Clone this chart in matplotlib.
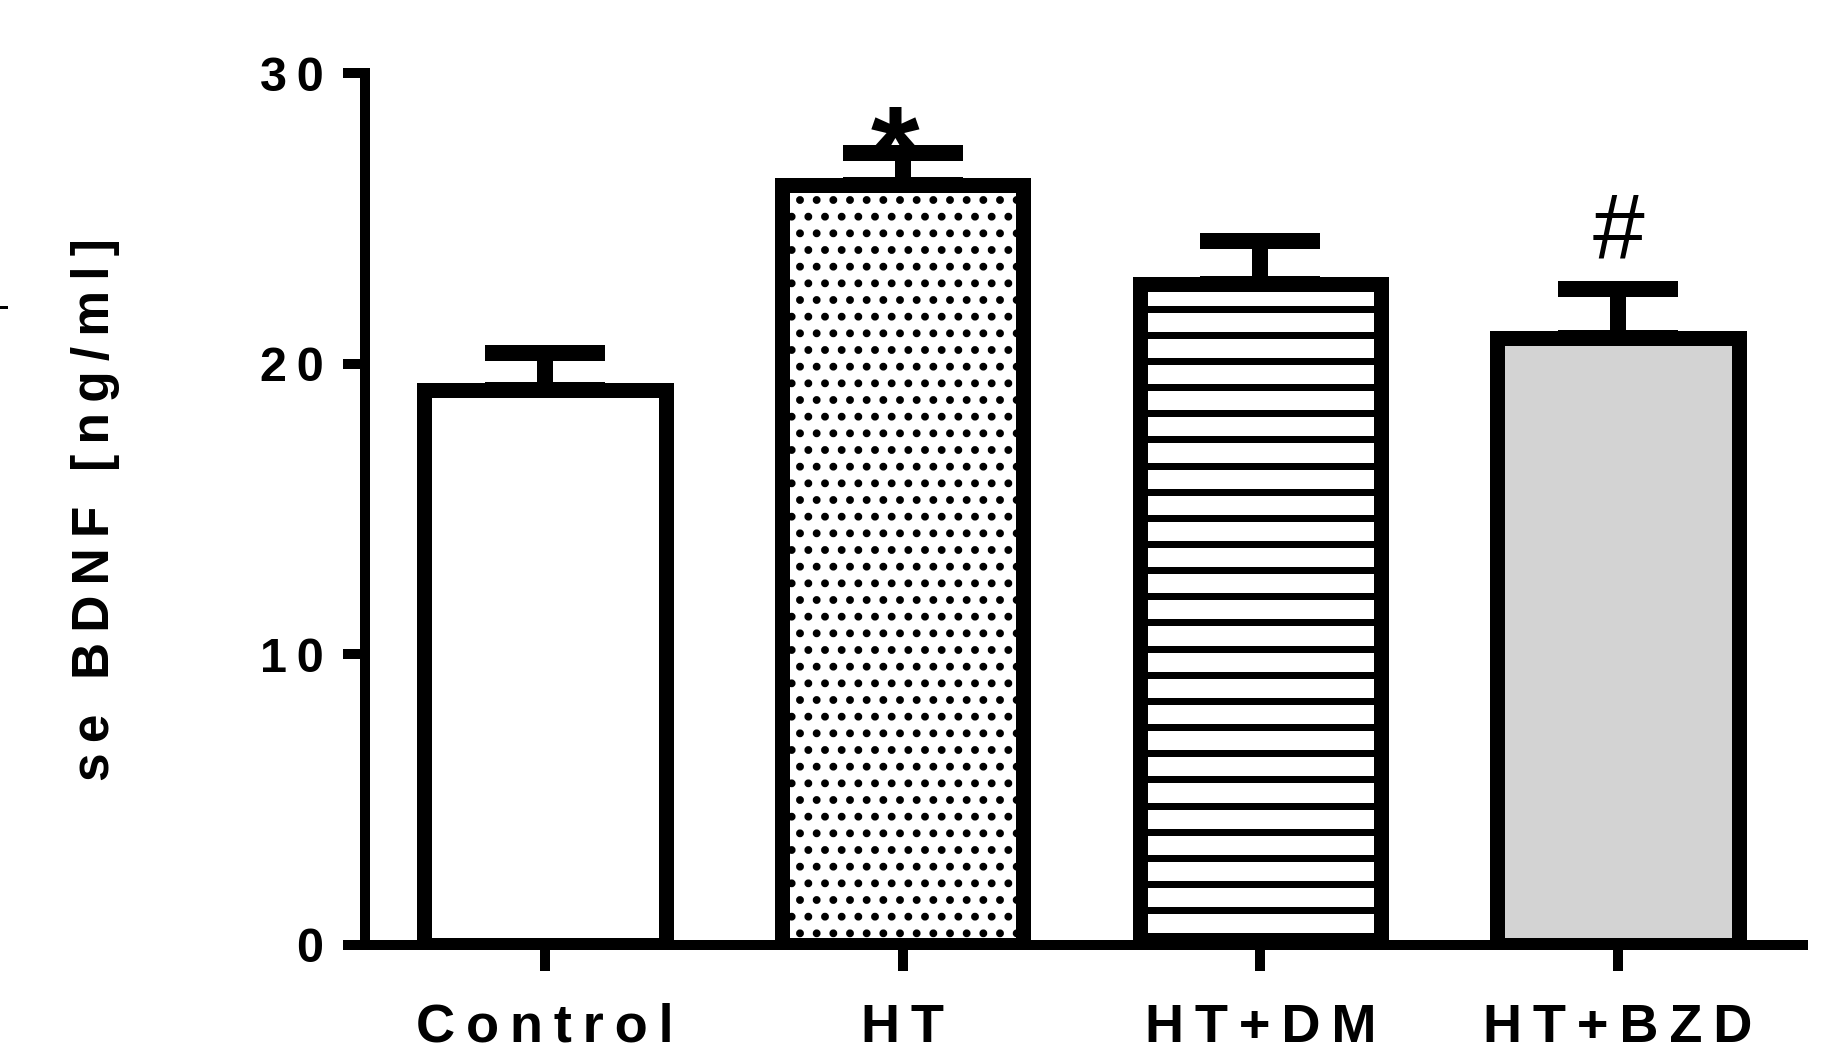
import matplotlib
matplotlib.use("Agg")
import matplotlib.pyplot as plt
from matplotlib.lines import Line2D
import numpy as np

# Serum BDNF per group (mean, upper SEM)
groups = ["Control", "HT", "HT+DM", "HT+BZD"]
means = [19.1, 26.15, 22.75, 20.9]
sems = [1.27, 1.1, 1.47, 1.68]
face_colors = ["white", "white", "white", "#d3d3d3"]
hatches = ["", ".", "", ""]
sig_marks = ["", "*", "", "#"]
y_ticks = [0, 10, 20, 30]

DPI = 100
PX = 72 / DPI  # points per pixel

plt.rcParams["font.family"] = ["Liberation Sans", "DejaVu Sans"]
plt.rcParams["hatch.linewidth"] = 3.2


def spaced(text):
    """Loose letter spacing, as in the exported Prism labels."""
    return "\u2009".join(text)


fig = plt.figure(figsize=(1839 / DPI, 1051 / DPI), dpi=DPI)
ax = fig.add_axes([0.19848, 0.10086, 0.78194, 0.8294])

x = np.arange(len(groups))
bar_w = 0.675

ax.errorbar(x, means, yerr=[np.zeros(len(sems)), sems], fmt="none",
            ecolor="black", elinewidth=16 * PX, capsize=60 * PX,
            capthick=16 * PX, zorder=2)
bars = ax.bar(x, means, width=bar_w, color=face_colors, edgecolor="black",
              linewidth=15 * PX, zorder=3)
for patch, h in zip(bars, hatches):
    if h:
        patch.set_hatch(h)

# horizontal stripe fill for HT+DM
stripe_y = np.arange(0.3, means[2] - 0.3, 0.9)
ax.hlines(stripe_y, x[2] - bar_w / 2, x[2] + bar_w / 2, color="black",
          linewidth=7 * PX, zorder=4)

for xi, m, s, mark in zip(x, means, sems, sig_marks):
    if mark == "*":
        ax.text(xi - 0.02, m + s - 1.35, mark, ha="center", va="baseline",
                fontsize=90, fontweight="bold", zorder=5)
    elif mark == "#":
        ax.text(xi, m + s + 1.05, mark, ha="center", va="baseline",
                fontsize=67, zorder=5)

ax.set_xlim(-0.503, 3.517)
ax.set_ylim(0, 30)
ax.set_xticks(x, labels=[spaced(g) for g in groups])
ax.set_yticks(y_ticks, labels=[spaced(str(t)) for t in y_ticks])

for side in ("top", "right"):
    ax.spines[side].set_visible(False)
for side in ("left", "bottom"):
    ax.spines[side].set_linewidth(10 * PX)
    ax.spines[side].set_zorder(2.5)

ax.tick_params(axis="x", length=26 * PX, width=10 * PX, pad=23,
               labelsize=39)
ax.tick_params(axis="y", length=22 * PX, width=10 * PX, pad=14,
               labelsize=35)
for lbl in ax.get_xticklabels() + ax.get_yticklabels():
    lbl.set_fontweight("bold")

fig.text(96 / 1839, 1 - 510 / 1051, spaced("se BDNF [ng/ml]"), rotation=90,
         ha="center", va="center", fontsize=37, fontweight="bold")

# stray tick from the neighbouring panel
fig.add_artist(Line2D([0, 6 / 1839], [1 - 307 / 1051] * 2, color="black",
                      linewidth=3 * PX))

fig.savefig("out.png", dpi=DPI)
